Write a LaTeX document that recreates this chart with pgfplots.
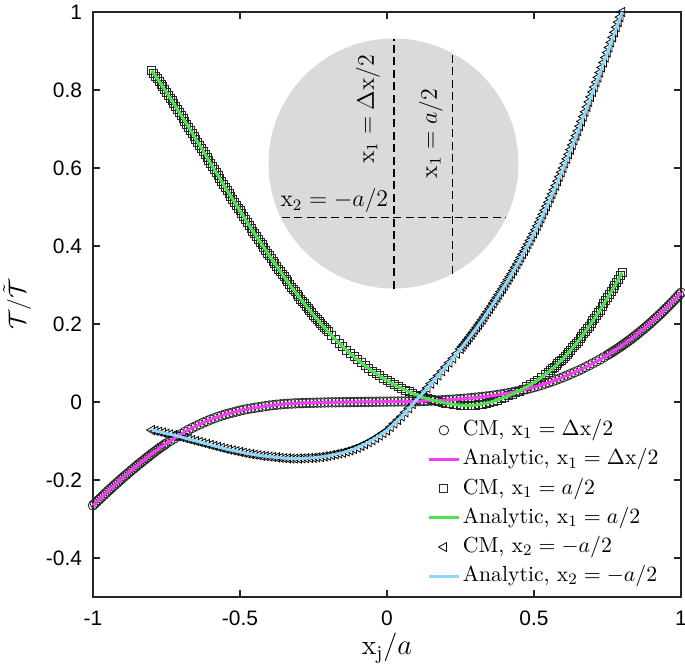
\documentclass[border=0pt]{standalone}
\usepackage{fontspec}
\usepackage{pgfplots}
\pgfplotsset{compat=1.18}
\usepackage{pgfplotstable}
\newfontfamily\tickfont{Liberation Sans}
\definecolor{cmag}{RGB}{245,60,245}
\definecolor{cgreen}{RGB}{80,225,80}
\definecolor{cblue}{RGB}{140,215,250}
\definecolor{cmk}{RGB}{40,40,40}
\definecolor{axc}{RGB}{38,38,38}
\definecolor{disk}{RGB}{218,218,218}

\pgfplotstableread{
x y
-1.0000 -0.2650
-0.9875 -0.2560
-0.9750 -0.2470
-0.9625 -0.2380
-0.9500 -0.2290
-0.9375 -0.2205
-0.9250 -0.2120
-0.9125 -0.2035
-0.9000 -0.1950
-0.8875 -0.1870
-0.8750 -0.1790
-0.8625 -0.1710
-0.8500 -0.1630
-0.8375 -0.1555
-0.8250 -0.1480
-0.8125 -0.1405
-0.8000 -0.1330
-0.7875 -0.1260
-0.7750 -0.1190
-0.7625 -0.1125
-0.7500 -0.1060
-0.7375 -0.1000
-0.7250 -0.0940
-0.7125 -0.0880
-0.7000 -0.0820
-0.6875 -0.0765
-0.6750 -0.0710
-0.6625 -0.0665
-0.6500 -0.0620
-0.6375 -0.0575
-0.6250 -0.0530
-0.6125 -0.0490
-0.6000 -0.0450
-0.5875 -0.0415
-0.5750 -0.0380
-0.5625 -0.0350
-0.5500 -0.0320
-0.5375 -0.0295
-0.5250 -0.0270
-0.5125 -0.0245
-0.5000 -0.0220
-0.4875 -0.0200
-0.4750 -0.0180
-0.4625 -0.0165
-0.4500 -0.0150
-0.4375 -0.0135
-0.4250 -0.0120
-0.4125 -0.0105
-0.4000 -0.0090
-0.3875 -0.0080
-0.3750 -0.0070
-0.3625 -0.0060
-0.3500 -0.0050
-0.3375 -0.0045
-0.3250 -0.0040
-0.3125 -0.0035
-0.3000 -0.0030
-0.2875 -0.0027
-0.2750 -0.0025
-0.2625 -0.0022
-0.2500 -0.0020
-0.2375 -0.0017
-0.2250 -0.0015
-0.2125 -0.0012
-0.2000 -0.0010
-0.1875 -0.0009
-0.1750 -0.0007
-0.1625 -0.0006
-0.1500 -0.0005
-0.1375 -0.0004
-0.1250 -0.0002
-0.1125 -0.0001
-0.1000 0.0000
-0.0875 0.0001
-0.0750 0.0002
-0.0625 0.0004
-0.0500 0.0005
-0.0375 0.0006
-0.0250 0.0008
-0.0125 0.0009
0.0000 0.0010
0.0125 0.0011
0.0250 0.0012
0.0375 0.0013
0.0500 0.0015
0.0625 0.0016
0.0750 0.0017
0.0875 0.0019
0.1000 0.0020
0.1125 0.0023
0.1250 0.0027
0.1375 0.0031
0.1500 0.0035
0.1625 0.0037
0.1750 0.0040
0.1875 0.0045
0.2000 0.0050
0.2125 0.0056
0.2250 0.0062
0.2375 0.0069
0.2500 0.0076
0.2625 0.0084
0.2750 0.0092
0.2875 0.0101
0.3000 0.0110
0.3125 0.0120
0.3250 0.0130
0.3375 0.0141
0.3500 0.0153
0.3625 0.0166
0.3750 0.0180
0.3875 0.0195
0.4000 0.0210
0.4125 0.0227
0.4250 0.0245
0.4375 0.0265
0.4500 0.0285
0.4625 0.0307
0.4750 0.0330
0.4875 0.0355
0.5000 0.0380
0.5125 0.0408
0.5250 0.0437
0.5375 0.0468
0.5500 0.0499
0.5625 0.0533
0.5750 0.0567
0.5875 0.0603
0.6000 0.0640
0.6125 0.0680
0.6250 0.0719
0.6375 0.0761
0.6500 0.0802
0.6625 0.0848
0.6750 0.0894
0.6875 0.0942
0.7000 0.0990
0.7125 0.1041
0.7250 0.1093
0.7375 0.1148
0.7500 0.1204
0.7625 0.1263
0.7750 0.1323
0.7875 0.1386
0.8000 0.1450
0.8125 0.1518
0.8250 0.1586
0.8375 0.1659
0.8500 0.1732
0.8625 0.1809
0.8750 0.1886
0.8875 0.1968
0.9000 0.2050
0.9125 0.2136
0.9250 0.2223
0.9375 0.2314
0.9500 0.2406
0.9625 0.2502
0.9750 0.2598
0.9875 0.2699
1.0000 0.2800
}\tabM

\pgfplotstableread{
x y
-0.99375 -0.2605
-0.98125 -0.2515
-0.96875 -0.2425
-0.95625 -0.2335
-0.94375 -0.2248
-0.93125 -0.2162
-0.91875 -0.2078
-0.90625 -0.1992
-0.89375 -0.1910
-0.88125 -0.1830
-0.86875 -0.1750
-0.85625 -0.1670
-0.84375 -0.1592
-0.83125 -0.1518
-0.81875 -0.1442
-0.80625 -0.1368
-0.79375 -0.1295
-0.78125 -0.1225
-0.76875 -0.1158
-0.75625 -0.1092
0.75625 0.1234
0.76875 0.1293
0.78125 0.1354
0.79375 0.1418
0.80625 0.1484
0.81875 0.1552
0.83125 0.1622
0.84375 0.1696
0.85625 0.1770
0.86875 0.1848
0.88125 0.1927
0.89375 0.2009
0.90625 0.2093
0.91875 0.2180
0.93125 0.2268
0.94375 0.2360
0.95625 0.2454
0.96875 0.2550
0.98125 0.2648
0.99375 0.2750
}\tabMx

\pgfplotstableread{
x y
-0.8000 0.8500
-0.7875 0.8360
-0.7750 0.8220
-0.7625 0.8080
-0.7500 0.7940
-0.7375 0.7795
-0.7250 0.7650
-0.7125 0.7500
-0.7000 0.7350
-0.6875 0.7200
-0.6750 0.7050
-0.6625 0.6895
-0.6500 0.6740
-0.6375 0.6585
-0.6250 0.6430
-0.6125 0.6275
-0.6000 0.6120
-0.5875 0.5965
-0.5750 0.5810
-0.5625 0.5655
-0.5500 0.5500
-0.5375 0.5350
-0.5250 0.5200
-0.5125 0.5050
-0.5000 0.4900
-0.4875 0.4750
-0.4750 0.4600
-0.4625 0.4455
-0.4500 0.4310
-0.4375 0.4170
-0.4250 0.4030
-0.4125 0.3890
-0.4000 0.3750
-0.3875 0.3615
-0.3750 0.3480
-0.3625 0.3345
-0.3500 0.3210
-0.3375 0.3080
-0.3250 0.2950
-0.3125 0.2825
-0.3000 0.2700
-0.2875 0.2580
-0.2750 0.2460
-0.2625 0.2345
-0.2500 0.2230
-0.2375 0.2120
-0.2250 0.2010
-0.2125 0.1905
-0.2000 0.1800
-0.1875 0.1700
-0.1750 0.1600
-0.1625 0.1510
-0.1500 0.1420
-0.1375 0.1330
-0.1250 0.1240
-0.1125 0.1160
-0.1000 0.1080
-0.0875 0.1005
-0.0750 0.0930
-0.0625 0.0860
-0.0500 0.0790
-0.0375 0.0730
-0.0250 0.0670
-0.0125 0.0610
0.0000 0.0550
0.0125 0.0495
0.0250 0.0440
0.0375 0.0395
0.0500 0.0350
0.0625 0.0305
0.0750 0.0260
0.0875 0.0220
0.1000 0.0180
0.1125 0.0145
0.1250 0.0110
0.1375 0.0085
0.1500 0.0060
0.1625 0.0035
0.1750 0.0010
0.1875 -0.0010
0.2000 -0.0030
0.2125 -0.0045
0.2250 -0.0060
0.2375 -0.0070
0.2500 -0.0080
0.2625 -0.0085
0.2750 -0.0090
0.2875 -0.0085
0.3000 -0.0080
0.3125 -0.0065
0.3250 -0.0050
0.3375 -0.0030
0.3500 -0.0010
0.3625 0.0020
0.3750 0.0050
0.3875 0.0085
0.4000 0.0120
0.4125 0.0160
0.4250 0.0200
0.4375 0.0240
0.4500 0.0280
0.4625 0.0335
0.4750 0.0390
0.4875 0.0445
0.5000 0.0500
0.5125 0.0565
0.5250 0.0630
0.5375 0.0700
0.5500 0.0770
0.5625 0.0855
0.5750 0.0940
0.5875 0.1030
0.6000 0.1120
0.6125 0.1225
0.6250 0.1330
0.6375 0.1445
0.6500 0.1560
0.6625 0.1685
0.6750 0.1810
0.6875 0.1945
0.7000 0.2080
0.7125 0.2220
0.7250 0.2360
0.7375 0.2515
0.7500 0.2670
0.7625 0.2825
0.7750 0.2980
0.7875 0.3150
0.8000 0.3320
}\tabG

\pgfplotstableread{
x y
-0.79375 0.8430
-0.78125 0.8290
-0.76875 0.8150
-0.75625 0.8010
-0.74375 0.7868
-0.73125 0.7722
-0.71875 0.7575
-0.70625 0.7425
-0.69375 0.7275
-0.68125 0.7125
-0.66875 0.6972
-0.65625 0.6818
-0.64375 0.6662
-0.63125 0.6508
-0.61875 0.6352
-0.60625 0.6198
-0.59375 0.6042
-0.58125 0.5888
-0.56875 0.5732
-0.55625 0.5578
-0.54375 0.5425
-0.53125 0.5275
-0.51875 0.5125
-0.50625 0.4975
-0.49375 0.4825
-0.48125 0.4675
-0.46875 0.4528
-0.45625 0.4382
-0.44375 0.4240
-0.43125 0.4100
-0.41875 0.3960
-0.40625 0.3820
-0.39375 0.3682
-0.38125 0.3548
-0.36875 0.3412
-0.35625 0.3278
-0.34375 0.3145
-0.33125 0.3015
-0.31875 0.2888
-0.30625 0.2762
-0.29375 0.2640
-0.28125 0.2520
-0.26875 0.2402
-0.25625 0.2288
-0.24375 0.2175
-0.23125 0.2065
-0.21875 0.1958
-0.20625 0.1852
0.55625 0.0812
0.56875 0.0898
0.58125 0.0985
0.59375 0.1075
0.60625 0.1172
0.61875 0.1278
0.63125 0.1388
0.64375 0.1502
0.65625 0.1622
0.66875 0.1748
0.68125 0.1878
0.69375 0.2012
0.70625 0.2150
0.71875 0.2290
0.73125 0.2438
0.74375 0.2592
0.75625 0.2748
0.76875 0.2902
0.78125 0.3065
0.79375 0.3235
}\tabGx

\pgfplotstableread{
x y
-0.8000 -0.0720
-0.7875 -0.0740
-0.7750 -0.0760
-0.7625 -0.0785
-0.7500 -0.0810
-0.7375 -0.0830
-0.7250 -0.0850
-0.7125 -0.0875
-0.7000 -0.0900
-0.6875 -0.0925
-0.6750 -0.0950
-0.6625 -0.0975
-0.6500 -0.1000
-0.6375 -0.1025
-0.6250 -0.1050
-0.6125 -0.1075
-0.6000 -0.1100
-0.5875 -0.1125
-0.5750 -0.1150
-0.5625 -0.1175
-0.5500 -0.1200
-0.5375 -0.1220
-0.5250 -0.1240
-0.5125 -0.1260
-0.5000 -0.1280
-0.4875 -0.1300
-0.4750 -0.1320
-0.4625 -0.1335
-0.4500 -0.1350
-0.4375 -0.1365
-0.4250 -0.1380
-0.4125 -0.1390
-0.4000 -0.1400
-0.3875 -0.1410
-0.3750 -0.1420
-0.3625 -0.1430
-0.3500 -0.1440
-0.3375 -0.1445
-0.3250 -0.1450
-0.3125 -0.1450
-0.3000 -0.1450
-0.2875 -0.1445
-0.2750 -0.1440
-0.2625 -0.1435
-0.2500 -0.1430
-0.2375 -0.1420
-0.2250 -0.1410
-0.2125 -0.1395
-0.2000 -0.1380
-0.1875 -0.1360
-0.1750 -0.1340
-0.1625 -0.1320
-0.1500 -0.1300
-0.1375 -0.1270
-0.1250 -0.1240
-0.1125 -0.1205
-0.1000 -0.1170
-0.0875 -0.1125
-0.0750 -0.1080
-0.0625 -0.1030
-0.0500 -0.0980
-0.0375 -0.0920
-0.0250 -0.0860
-0.0125 -0.0795
0.0000 -0.0730
0.0125 -0.0640
0.0250 -0.0550
0.0375 -0.0460
0.0500 -0.0370
0.0625 -0.0265
0.0750 -0.0160
0.0875 -0.0055
0.1000 0.0050
0.1125 0.0150
0.1250 0.0250
0.1375 0.0360
0.1500 0.0470
0.1625 0.0575
0.1750 0.0680
0.1875 0.0790
0.2000 0.0900
0.2125 0.1010
0.2250 0.1120
0.2375 0.1240
0.2500 0.1360
0.2625 0.1480
0.2750 0.1600
0.2875 0.1725
0.3000 0.1850
0.3125 0.1980
0.3250 0.2110
0.3375 0.2250
0.3500 0.2390
0.3625 0.2535
0.3750 0.2680
0.3875 0.2830
0.4000 0.2980
0.4125 0.3135
0.4250 0.3290
0.4375 0.3455
0.4500 0.3620
0.4625 0.3790
0.4750 0.3960
0.4875 0.4140
0.5000 0.4320
0.5125 0.4515
0.5250 0.4710
0.5375 0.4915
0.5500 0.5120
0.5625 0.5335
0.5750 0.5550
0.5875 0.5775
0.6000 0.6000
0.6125 0.6235
0.6250 0.6470
0.6375 0.6710
0.6500 0.6950
0.6625 0.7195
0.6750 0.7440
0.6875 0.7695
0.7000 0.7950
0.7125 0.8200
0.7250 0.8450
0.7375 0.8705
0.7500 0.8960
0.7625 0.9220
0.7750 0.9480
0.7875 0.9740
0.8000 1.0000
}\tabB

\pgfplotstableread{
x y
0.25625 0.1420
0.26875 0.1540
0.28125 0.1662
0.29375 0.1788
0.30625 0.1915
0.31875 0.2045
0.33125 0.2180
0.34375 0.2320
0.35625 0.2462
0.36875 0.2608
0.38125 0.2755
0.39375 0.2905
0.40625 0.3058
0.41875 0.3212
0.43125 0.3372
0.44375 0.3538
0.45625 0.3705
0.46875 0.3875
0.48125 0.4050
0.49375 0.4230
0.50625 0.4418
0.51875 0.4612
0.53125 0.4812
0.54375 0.5018
0.55625 0.5228
0.56875 0.5442
0.58125 0.5662
0.59375 0.5888
0.60625 0.6118
0.61875 0.6352
0.63125 0.6590
0.64375 0.6830
0.65625 0.7072
0.66875 0.7318
0.68125 0.7568
0.69375 0.7822
0.70625 0.8075
0.71875 0.8325
0.73125 0.8578
0.74375 0.8832
0.75625 0.9090
0.76875 0.9350
0.78125 0.9610
0.79375 0.9870
}\tabBx

\begin{document}
\begin{tikzpicture}
\begin{axis}[
  set layers,
  scale only axis, width=294bp, height=292.5bp,
  xmin=-1, xmax=1, ymin=-0.5, ymax=1,
  clip=false,
  xtick={-1,-0.5,0,0.5,1},
  ytick={-0.4,-0.2,0,0.2,0.4,0.6,0.8,1},
  tick align=inside, major tick length=3.5bp,
  axis line style={line width=1.2pt, color=axc},
  tick style={line width=1.2pt, color=axc},
  /pgf/number format/assume math mode=true,
  tick label style={font=\tickfont\fontsize{10.5}{12}\selectfont, color=black},
  xticklabel style={yshift=-3.5bp},
  yticklabel style={xshift=-2bp},
  xlabel={$\mathrm{x}_\mathrm{j}/a$},
  ylabel={$\mathcal{T}/\tilde{\mathcal{T}}$},
  xlabel style={font=\fontsize{14}{16}\selectfont, at={(axis description cs:0.5,-0.0991)}, anchor=base},
  ylabel style={font=\fontsize{13}{15}\selectfont, at={(axis description cs:-0.1156,0.5)}, anchor=base},
  legend image code/.code={\draw[mark repeat=2,mark phase=2,#1] plot coordinates {(0cm,0cm) (0.265cm,0cm) (0.53cm,0cm)};},
  legend style={draw=none, fill=none, at={(axis cs:0.136,-0.034)}, anchor=north west,
    font=\fontsize{10.9}{13}\selectfont, inner sep=0pt, row sep=0pt,
    nodes={inner sep=1.2bp, text height=8.8bp, text depth=3.4bp}},
  legend cell align=left,
  cmstyle/.style={only marks, mark options={solid, draw=cmk, fill=none, line width=0.42bp}},
  anstyle/.style={no marks, line width=1.5bp, on layer=axis foreground},
]
% inset: gray disk and dashed chords
\fill[disk] (axis cs:0.0221,0.6115) circle [radius=62.5bp];
\draw[black, line width=0.6bp, dash pattern=on 4bp off 2.2bp] (axis cs:0.024,0.291) -- (axis cs:0.024,0.932);
\draw[black, line width=0.6bp, dash pattern=on 4bp off 2.2bp] (axis cs:0.223,0.329) -- (axis cs:0.223,0.894);
\draw[black, line width=0.6bp, dash pattern=on 4bp off 2.2bp] (axis cs:-0.358,0.474) -- (axis cs:0.402,0.474);
\node[rotate=90, anchor=base, font=\fontsize{12}{14}\selectfont, inner sep=0pt] at (axis cs:-0.045,0.751) {$\mathrm{x}_1=\Delta\mathrm{x}/2$};
\node[rotate=90, anchor=base, font=\fontsize{12}{14}\selectfont, inner sep=0pt] at (axis cs:0.170,0.688) {$\mathrm{x}_1=a/2$};
\node[anchor=base, font=\fontsize{12}{14}\selectfont, inner sep=0pt] at (axis cs:-0.179,0.501) {$\mathrm{x}_2=-a/2$};

\addplot[cmstyle, mark=o, mark size=2.4bp] table[x=x,y=y] {\tabM};
\addlegendentry{CM, $\mathrm{x}_1=\Delta\mathrm{x}/2$}
\addplot[cmstyle, mark=o, mark size=2.4bp, forget plot] table[x=x,y=y] {\tabMx};
\addplot[anstyle, cmag] table[x=x,y=y] {\tabM};
\addlegendentry{Analytic, $\mathrm{x}_1=\Delta\mathrm{x}/2$}
\addplot[cmstyle, mark=square, mark size=2.0bp] table[x=x,y=y] {\tabG};
\addlegendentry{CM, $\mathrm{x}_1=a/2$}
\addplot[cmstyle, mark=square, mark size=2.0bp, forget plot] table[x=x,y=y] {\tabGx};
\addplot[anstyle, cgreen] table[x=x,y=y] {\tabG};
\addlegendentry{Analytic, $\mathrm{x}_1=a/2$}
\addplot[cmstyle, mark=triangle, mark size=2.6bp, mark options={rotate=90}] table[x=x,y=y] {\tabB};
\addlegendentry{CM, $\mathrm{x}_2=-a/2$}
\addplot[cmstyle, mark=triangle, mark size=2.6bp, mark options={rotate=90}, forget plot] table[x=x,y=y] {\tabBx};
\addplot[anstyle, cblue] table[x=x,y=y] {\tabB};
\addlegendentry{Analytic, $\mathrm{x}_2=-a/2$}
\end{axis}
\pgfresetboundingbox
\path[use as bounding box] ([xshift=-46.5bp,yshift=-34bp]current axis.south west) rectangle ([xshift=2bp,yshift=6bp]current axis.north east);
\end{tikzpicture}
\end{document}
